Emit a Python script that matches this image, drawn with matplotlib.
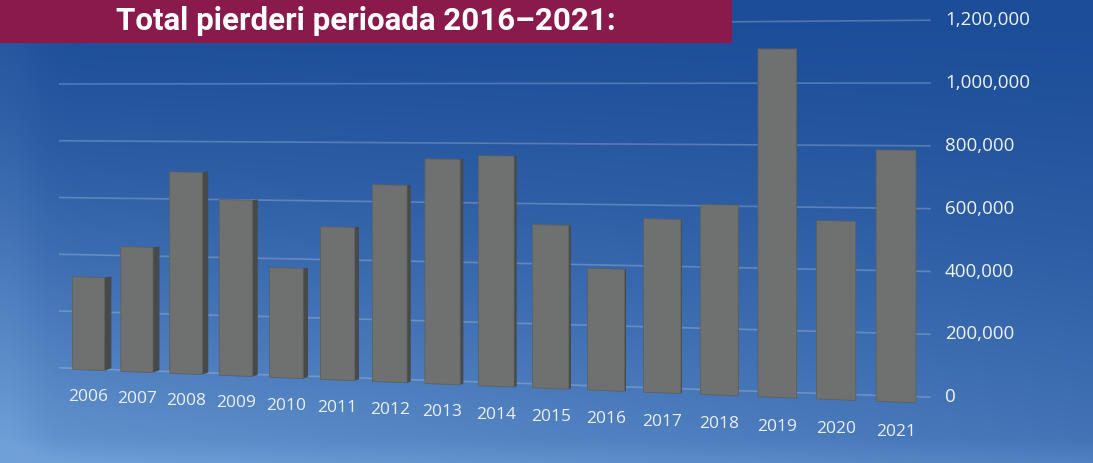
import numpy as np
import matplotlib
matplotlib.use('Agg')
import matplotlib.pyplot as plt
from matplotlib.transforms import Transform, offset_copy
from matplotlib.patches import Polygon, Rectangle

# Data
years = ['2006', '2007', '2008', '2009', '2010', '2011', '2012', '2013',
         '2014', '2015', '2016', '2017', '2018', '2019', '2020', '2021']
losses = [326000, 436000, 700000, 607000, 377000, 521000, 667000, 757000,
          770000, 543000, 402000, 570000, 620000, 1128000, 575000, 805000]
y_ticks = [0, 200000, 400000, 600000, 800000, 1000000, 1200000]
y_tick_labels = ['0', '200,000', '400,000', '600,000', '800,000', '1,000,000', '1,200,000']
title = 'Total pierderi perioada 2016\u20132021:'


class Perspective(Transform):
    """Maps (bar index, value) to image pixels with a simple perspective."""
    input_dims = 2
    output_dims = 2

    def __init__(self, base, tilt):
        super().__init__()
        self.base = base
        self.tilt = tilt

    def transform_non_affine(self, values):
        values = np.asarray(values, dtype=float).reshape(-1, 2)
        i, v = values[:, 0], values[:, 1]
        px = (47.39 * i + 88.5) / (1 - 0.00719 * i)
        py = (self.base + self.tilt * i - 2.8485e-4 * v) / (1 - 0.005988 * i)
        return np.column_stack([px, py])


fig = plt.figure(figsize=(10.93, 4.63), dpi=100)
ax = fig.add_axes([0, 0, 1, 1])
ax.set_xlim(0, 1093)
ax.set_ylim(463, 0)
ax.set_autoscale_on(False)
ax.axis('off')

# blue gradient background
yy, xx = np.mgrid[0:1:232j, 0:1:548j]
t = yy ** 1.4 * (0.5 + 0.4 * (1 - xx))
t = t + 0.15 * np.exp(-((xx - 0.0) / 0.035) ** 2) * (0.6 + 0.4 * yy)
t = t + 0.12 * np.clip((yy - 0.95) / 0.05, 0, 1)
t = np.clip(t, 0, 1)
dark = np.array([28, 77, 152]) / 255
light = np.array([112, 160, 216]) / 255
bg = dark + (light - dark) * t[..., None]
ax.imshow(bg, extent=[0, 1093, 463, 0], aspect='auto', zorder=0, interpolation='bilinear')

wall = Perspective(368.8, -0.556) + ax.transData
front = Perspective(370.0, -0.273) + ax.transData
x = np.arange(len(years))

# gridlines on the back wall
for g, lab in zip(y_ticks, y_tick_labels):
    ax.plot([-0.6, 15.56], [g, g], color='#c9d4e8', alpha=0.3, lw=1.2,
            transform=wall, zorder=1)
    ax.text(15.56, g, lab, transform=offset_copy(wall, fig=fig, x=15, units='dots'),
            ha='left', va='center', color='#eef3fa', fontsize=13.5,
            family=['Open Sans', 'DejaVu Sans'], zorder=5)

# bars: darker side face then front face
hw = 0.33
for i, v in zip(x, losses):
    pts = front.transform([(i + hw, 0), (i + hw, v)])
    pts = ax.transData.inverted().transform(pts)
    sw = max(0.0, 7 * (1 - i / 13))
    if sw > 0:
        side = Polygon([pts[0], pts[1], pts[1] + (sw, -sw * 0.15), pts[0] + (sw, -sw * 0.35)],
                       closed=True, facecolor='#474a48', edgecolor='none', zorder=2)
        ax.add_patch(side)

ax.bar(x, losses, width=2 * hw, color='#6e716f', edgecolor='#5e615f', linewidth=0.6,
       transform=front, zorder=3)

for i, lab in zip(x, years):
    ax.text(i, -95000, lab, transform=front, ha='center', va='center',
            color='#eaf0f8', fontsize=12.5, family=['Open Sans', 'DejaVu Sans'], zorder=5)

# title banner
ax.add_patch(Rectangle((0, 0), 732, 43, facecolor='#8b1a4c', edgecolor='none', zorder=6))
ax.text(366, 21, title, ha='center', va='center', color='white', fontsize=22.5,
        fontweight='bold', family=['Roboto', 'DejaVu Sans'], zorder=7)

fig.savefig('out.png', dpi=100)
